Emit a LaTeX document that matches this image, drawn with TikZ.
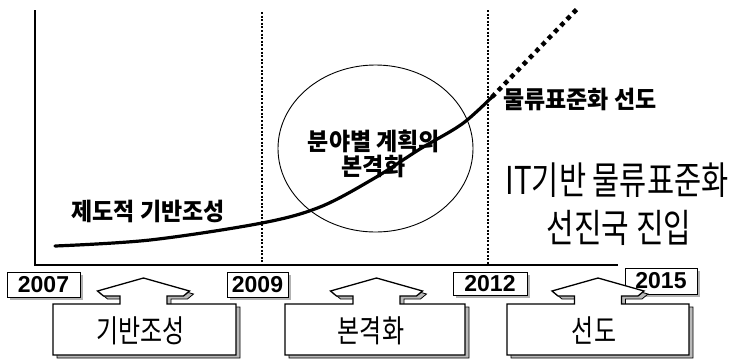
\documentclass[tikz,border=0pt]{standalone}
\usepackage{fontspec}
\usetikzlibrary{shapes.geometric}
\newfontfamily\kr{Noto Sans CJK KR}
\newfontfamily\yr{Liberation Sans}
\tikzset{
  yearbox/.style={draw, line width=0.8pt, fill=white, inner sep=0pt,
    font=\yr\bfseries\fontsize{23}{23}\selectfont},
  boldlab/.style={inner sep=0pt, font=\kr\bfseries\fontsize{23}{23}\selectfont},
  biglab/.style={inner sep=0pt, font=\kr\fontsize{30}{30}\selectfont},
  boxtext/.style={inner sep=0pt, font=\kr\fontsize{24}{24}\selectfont},
  dotline/.style={line width=2.3pt, dash pattern=on 2pt off 1.6pt},
  shadowline/.style={line width=0.8pt, fill=gray!55},
  calloutline/.style={line width=1.3pt, fill=white},
}
\newcommand\mycallout[5]{%
  \draw[shadowline, shift={(4,3)}] (#3,304) -- ({#2-23.5},304) -- ({#2-23.5},296) -- ({#2-40},296) -- ({#2-46},291) -- (#2,278) -- ({#2+46},291) -- ({#2+40},296) -- ({#2+23.5},296) -- ({#2+23.5},304) -- (#4,304) -- (#4,355) -- (#3,355) -- cycle;
  \draw[calloutline] (#3,304) -- ({#2-23.5},304) -- ({#2-23.5},296) -- ({#2-40},296) -- ({#2-46},291) -- (#2,278) -- ({#2+46},291) -- ({#2+40},296) -- ({#2+23.5},296) -- ({#2+23.5},304) -- (#4,304) -- (#4,355) -- (#3,355) -- cycle;
  \node[boxtext] (#1) at ({(#3+#4)/2-4},331) {\scalebox{1}[1.3]{#5}};
}
\begin{document}
\begin{tikzpicture}[x=1pt,y=-1pt]
\useasboundingbox[fill=white] (0,0) rectangle (742,360);

% axes
\coordinate (ytop) at (35,10);
\coordinate (orig) at (35,265);
\coordinate (xend) at (618,265);
\draw[line width=1.8pt] (ytop) -- (orig) -- (xend);
\coordinate (d1t) at (262,12);
\coordinate (d1b) at (262,265);
\coordinate (d2t) at (488,10);
\coordinate (d2b) at (488,265);
\draw[dotline] (d1t) -- (d1b);
\draw[dotline] (d2t) -- (d2b);

% ellipse
\node[draw, line width=0.9pt, ellipse, minimum width=195pt, minimum height=167pt, inner sep=0pt] (ell) at (375.5,148.5) {};

% growth curve
\coordinate (c0) at (55,246);
\coordinate (c1) at (492,97);
\coordinate (c2) at (578,8);
\draw[line width=3.2pt, line cap=round] plot[smooth, tension=0.55] coordinates {(c0) (150,240) (262,223) (320,207) (373,179) (420,149) (462,124) (c1)};
\draw[line width=4.5pt, dash pattern=on 4.5pt off 4.5pt] (c1) -- (c2);

% labels
\node[boldlab] (l1) at (148,211) {\scalebox{1}[1.05]{제도적 기반조성}};
\node[boldlab] (l2a) at (374,141) {\scalebox{1}[1.05]{분야별 계획의}};
\node[boldlab] (l2b) at (373.5,166) {\scalebox{1}[1.05]{본격화}};
\node[boldlab] (l3) at (580,99) {\scalebox{1}[1.05]{물류표준화 선도}};
\node[biglab, font=\kr\fontsize{29.5}{30}\selectfont] (l4) at (617,180) {\scalebox{1}[1.3]{IT기반 물류표준화}};
\node[biglab] (l5) at (619,228) {\scalebox{1}[1.3]{선진국 진입}};

% year boxes
\fill[gray!60] (9.5,274.5) rectangle (82.5,299.5);
\node[yearbox, minimum width=73pt, minimum height=25pt] (y1) at (43.5,284.5) {2007};
\fill[gray!60] (229.5,274.5) rectangle (290.5,299.5);
\node[yearbox, minimum width=61pt, minimum height=25pt] (y2) at (257.5,284.5) {2009};
\fill[gray!60] (455.5,274.5) rectangle (529.5,297.5);
\node[yearbox, minimum width=74pt, minimum height=23pt] (y3) at (490,283.5) {2012};
\fill[gray!60] (627.5,270.5) rectangle (699.5,296.5);
\node[yearbox, minimum width=72pt, minimum height=26pt] (y4) at (661,281) {2015};

% callouts
\mycallout{b1}{143.5}{53}{236}{기반조성}
\mycallout{b2}{376.5}{285}{465}{본격화}
\mycallout{b3}{598}{507}{689}{선도}
\end{tikzpicture}
\end{document}
